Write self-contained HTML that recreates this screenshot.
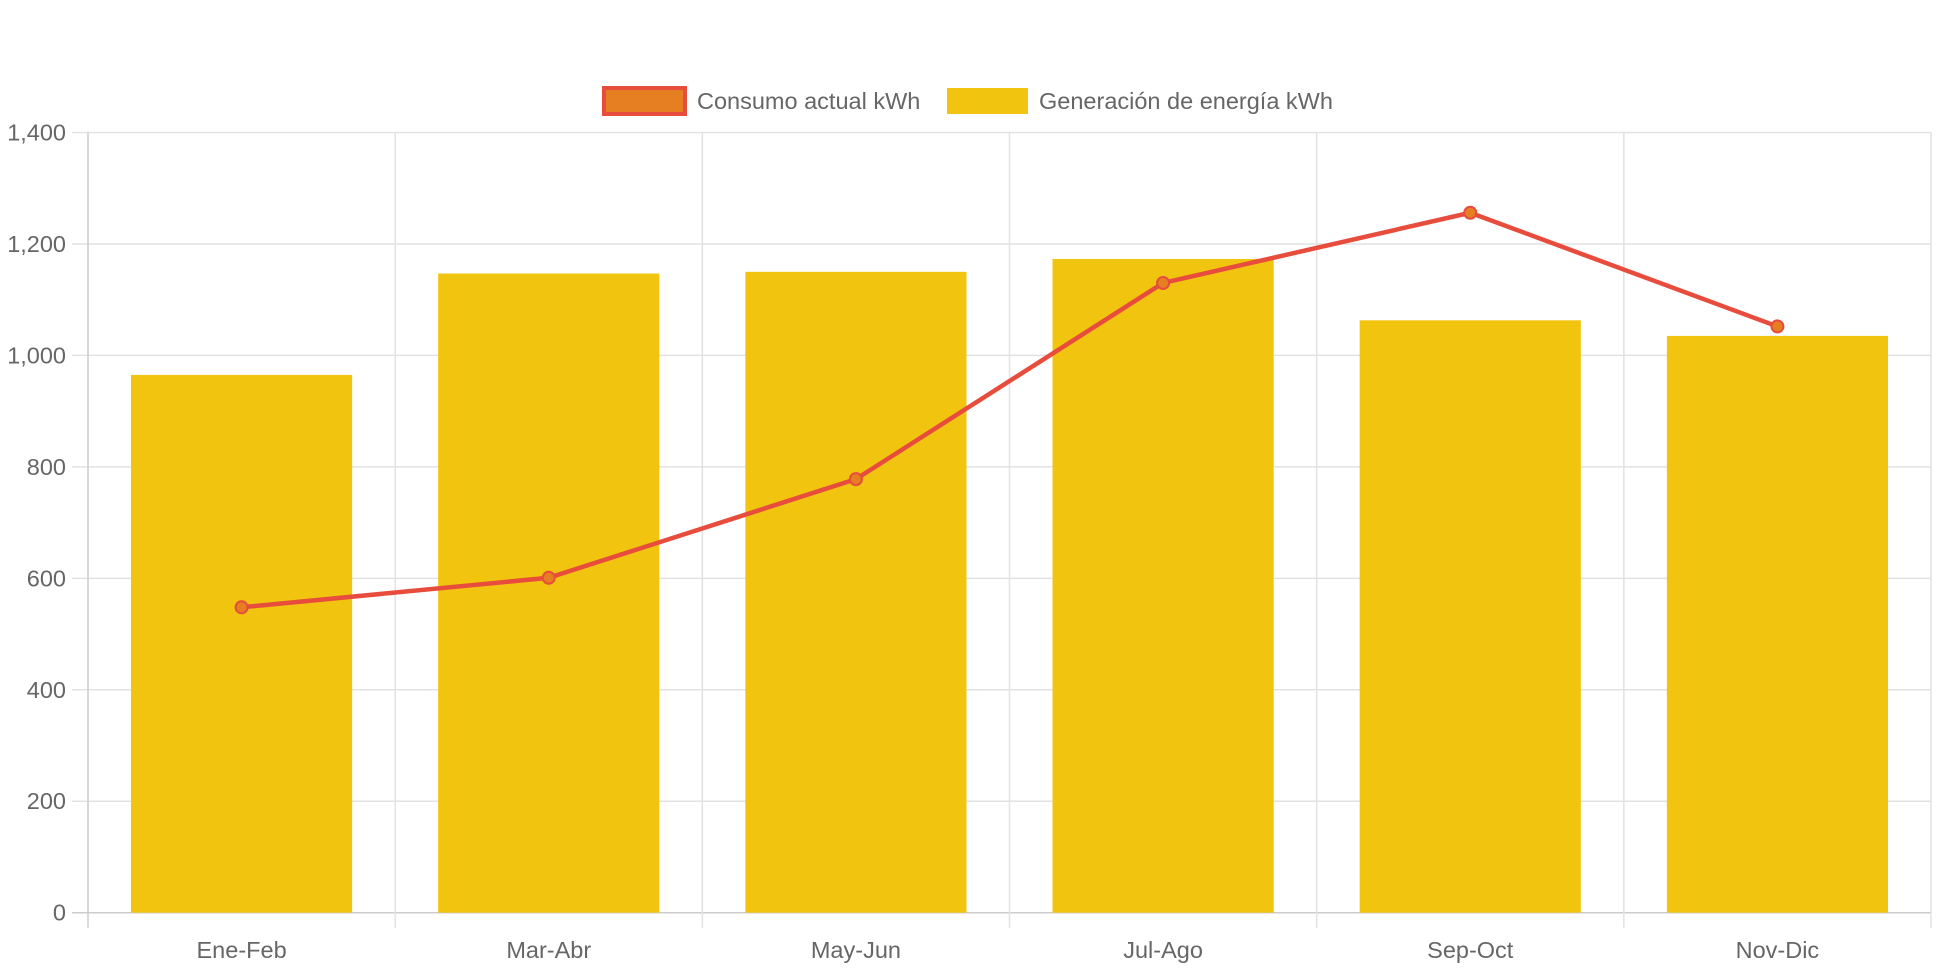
<!DOCTYPE html>
<html><head><meta charset="utf-8"><style>
html,body{margin:0;padding:0;background:#fff;}
svg{display:block;font-family:"Liberation Sans",Arial,sans-serif;}
</style></head><body>
<svg id="chart" width="1942" height="970" viewBox="0 0 1942 970" xmlns="http://www.w3.org/2000/svg">
<g id="legend">
  <g>
    <rect x="604" y="88" width="81" height="26" fill="#e67e22" stroke="#e74c3c" stroke-width="4"/>
    <text x="697" y="109" font-size="23.5" fill="#666">Consumo actual kWh</text>
  </g>
  <g>
    <rect x="947" y="88" width="81" height="26" fill="#f1c40f"/>
    <text x="1039" y="109" font-size="23.5" fill="#666">Generación de energía kWh</text>
  </g>
</g>
<g id="grid"></g>
<g id="bars"></g>
<g id="line"></g>
<g id="labels"></g>
</svg>
<script>
const categories = ["Ene-Feb","Mar-Abr","May-Jun","Jul-Ago","Sep-Oct","Nov-Dic"];
const generacion = [965, 1147, 1150, 1173, 1063, 1035];
const consumo = [548, 601, 778, 1130, 1256, 1052];
const yTicks = [0, 200, 400, 600, 800, 1000, 1200, 1400];
const yTickLabels = ["0","200","400","600","800","1,000","1,200","1,400"];

const NS = "http://www.w3.org/2000/svg";
const L = 88, R = 1931, T = 132.5, B = 912.7, YMAX = 1400;
const cw = (R - L) / categories.length;
const y = v => B - (v / YMAX) * (B - T);
const xc = i => L + cw * (i + 0.5);
function mk(tag, attrs, parent) {
  const e = document.createElementNS(NS, tag);
  for (const k in attrs) e.setAttribute(k, attrs[k]);
  parent.appendChild(e);
  return e;
}
const grid = document.getElementById('grid');
const bars = document.getElementById('bars');
const line = document.getElementById('line');
const labels = document.getElementById('labels');

yTicks.forEach((t, i) => {
  const g = mk('line', {x1: 72, x2: R, y1: y(t), y2: y(t), stroke: t === 0 ? '#ccc' : '#e2e2e2', 'stroke-width': 1.5}, grid);
  
  
  const tx = mk('text', {x: 66, y: y(t) + 8, 'text-anchor': 'end', 'font-size': 23.5, fill: '#666'}, labels);
  tx.textContent = yTickLabels[i];
  
  
});
for (let i = 0; i <= categories.length; i++) {
  const gx = L + cw * i;
  const g = mk('line', {x1: gx, x2: gx, y1: T, y2: B + 15, stroke: i === 0 ? '#ccc' : '#e2e2e2', 'stroke-width': 1.5}, grid);
  
  
}
categories.forEach((c, i) => {
  const bw = cw * 0.72;
  const r = mk('rect', {x: xc(i) - bw / 2, y: y(generacion[i]), width: bw, height: B - y(generacion[i]), fill: '#f1c40f'}, bars);
  
  
  const tx = mk('text', {x: xc(i), y: 958, 'text-anchor': 'middle', 'font-size': 23.5, fill: '#666'}, labels);
  tx.textContent = c;
  
  
});
const pts = consumo.map((v, i) => xc(i) + ',' + y(v)).join(' ');
const pl = mk('polyline', {points: pts, fill: 'none', stroke: '#e74c3c', 'stroke-width': 4.5, 'stroke-linejoin': 'round'}, line);


consumo.forEach((v, i) => {
  const p = mk('circle', {cx: xc(i), cy: y(v), r: 6, fill: '#e67e22', stroke: '#e74c3c', 'stroke-width': 2}, line);
  
  
});
</script>
</body></html>
